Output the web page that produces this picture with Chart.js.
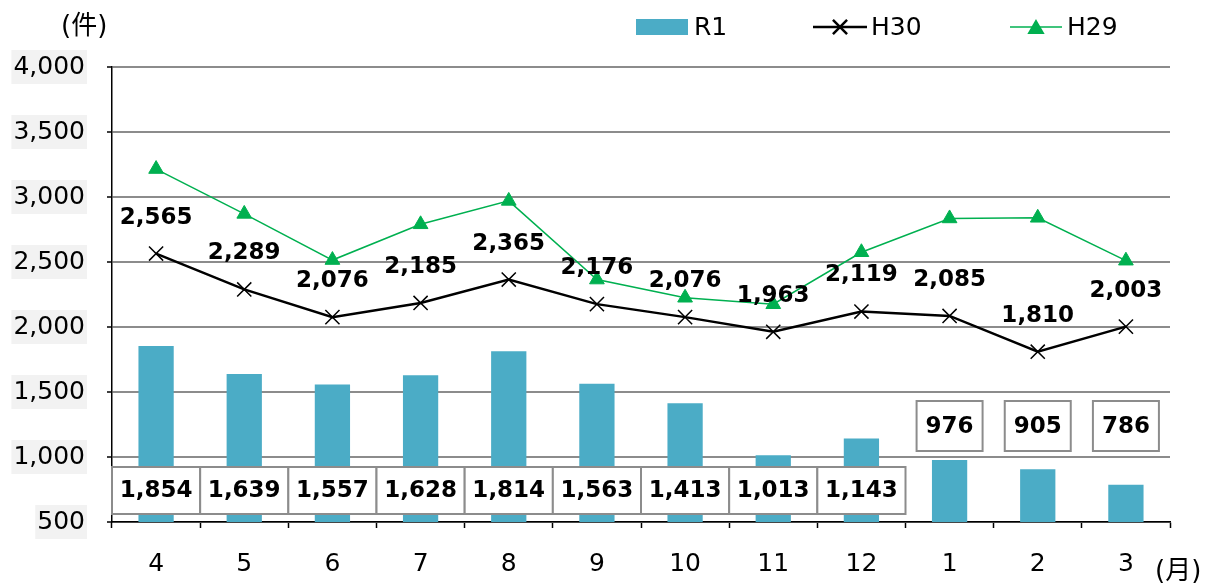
<!DOCTYPE html>
<html>
<head>
<meta charset="utf-8">
<script src="https://cdn.jsdelivr.net/npm/chart.js@4.4.0/dist/chart.umd.min.js"></script>
<style>
    html, body { margin: 0; padding: 0; background: #fff; }
    #wrap { width: 1211px; height: 584px; }
</style>
</head>
<body>
<div id="wrap"><canvas id="chart" width="1211" height="584"></canvas></div>
<script>
const months = ['4', '5', '6', '7', '8', '9', '10', '11', '12', '1', '2', '3'];
const r1Values = [1854, 1639, 1557, 1628, 1814, 1563, 1413, 1013, 1143, 976, 905, 786];
const h30Values = [2565, 2289, 2076, 2185, 2365, 2176, 2076, 1963, 2119, 2085, 1810, 2003];
const h29Values = [3215, 2870, 2515, 2790, 2970, 2365, 2225, 2175, 2575, 2835, 2840, 2510];
const yTickValues = [500, 1000, 1500, 2000, 2500, 3000, 3500, 4000];

const FONT = '"DejaVu Sans", "Noto Sans CJK JP", sans-serif';
const BAR_COLOR = '#4BACC6';
const GREEN = '#00B050';
const fmt = v => v.toLocaleString('en-US');

// grey boxes behind the y tick labels
const yLabelBg = {
    id: 'yLabelBg',
    beforeDraw(chart) {
        const { ctx, chartArea, scales: { y } } = chart;
        ctx.save();
        ctx.font = `25px ${FONT}`;
        ctx.fillStyle = '#f2f2f2';
        const right = chartArea.left - 27;
        yTickValues.forEach(v => {
            const w = ctx.measureText(fmt(v)).width;
            const py = y.getPixelForValue(v);
            ctx.fillRect(right - w - 2, py - 17, w + 4, 34);
        });
        ctx.restore();
    }
};

const valueLabels = {
    id: 'valueLabels',
    afterDatasetsDraw(chart) {
        const { ctx, chartArea, scales: { x, y } } = chart;
        ctx.save();
        ctx.font = `bold 23px ${FONT}`;
        ctx.textAlign = 'center';
        ctx.textBaseline = 'middle';

        // H30 labels above the points
        h30Values.forEach((v, i) => {
            ctx.fillStyle = '#000';
            ctx.fillText(fmt(v), x.getPixelForValue(i), y.getPixelForValue(v) - 36);
        });

        // R1 labels in boxes
        const catW = chartArea.width / months.length;
        r1Values.forEach((v, i) => {
            const cx = x.getPixelForValue(i);
            let bx, by, bw, bh;
            if (i < 9) {
                bx = cx - catW / 2; bw = catW;
                by = chartArea.bottom - 55; bh = 47;
            } else {
                bw = 66; bx = cx - bw / 2;
                by = chartArea.bottom - 121; bh = 50;
            }
            ctx.fillStyle = '#fff';
            ctx.fillRect(bx, by, bw, bh);
            ctx.strokeStyle = '#8c8c8c';
            ctx.lineWidth = 2;
            ctx.strokeRect(bx, by, bw, bh);
            ctx.fillStyle = '#000';
            ctx.fillText(fmt(v), cx, by + bh / 2 + 1);
        });
        ctx.restore();
    },
    afterDraw(chart) {
        const { ctx, chartArea } = chart;
        ctx.save();
        ctx.fillStyle = '#000';
        ctx.textBaseline = 'middle';
        ctx.textAlign = 'left';
        ctx.font = `26px ${FONT}`;
        ctx.fillText('(件)', 61, 27);
        ctx.fillText('(月)', chartArea.right - 15, 572);

        // legend
        ctx.font = `25px ${FONT}`;
        ctx.fillStyle = BAR_COLOR;
        ctx.fillRect(636, 19, 52, 16);
        ctx.fillStyle = '#000';
        ctx.fillText('R1', 694, 28);

        ctx.strokeStyle = '#000';
        ctx.lineWidth = 2.5;
        ctx.beginPath(); ctx.moveTo(813, 27); ctx.lineTo(867, 27); ctx.stroke();
        Chart.helpers.drawPoint(ctx, { pointStyle: 'crossRot', radius: 10, borderWidth: 1.5 }, 840, 27);
        ctx.fillText('H30', 871, 28);

        ctx.strokeStyle = GREEN;
        ctx.fillStyle = GREEN;
        ctx.lineWidth = 1.5;
        ctx.beginPath(); ctx.moveTo(1010, 27); ctx.lineTo(1062, 27); ctx.stroke();
        Chart.helpers.drawPoint(ctx, { pointStyle: 'triangle', radius: 8.5, borderWidth: 1 }, 1036, 29);
        ctx.fillStyle = '#000';
        ctx.fillText('H29', 1067, 28);
        ctx.restore();
    }
};

new Chart(document.getElementById('chart'), {
    type: 'bar',
    data: {
        labels: months,
        datasets: [
            {
                type: 'line',
                label: 'H30',
                data: h30Values,
                borderColor: '#000',
                backgroundColor: '#000',
                borderWidth: 2.5,
                pointStyle: 'crossRot',
                pointRadius: 10,
                pointBorderWidth: 1.5,
                pointBorderColor: '#000',
                tension: 0,
                order: 1
            },
            {
                type: 'line',
                label: 'H29',
                data: h29Values,
                borderColor: GREEN,
                backgroundColor: GREEN,
                borderWidth: 1.5,
                pointStyle: 'triangle',
                pointRadius: 8.5,
                pointBorderWidth: 1,
                pointBackgroundColor: GREEN,
                pointBorderColor: GREEN,
                tension: 0,
                order: 2
            },
            {
                label: 'R1',
                data: r1Values,
                backgroundColor: BAR_COLOR,
                categoryPercentage: 1,
                barPercentage: 0.4,
                order: 3
            }
        ]
    },
    options: {
        responsive: false,
        animation: false,
        devicePixelRatio: 1,
        layout: { padding: { top: 67, right: 41, left: 0, bottom: 0 } },
        scales: {
            x: {
                afterFit: s => { s.height = 62; },
                grid: {
                    display: true,
                    drawOnChartArea: false,
                    drawTicks: true,
                    tickLength: 6,
                    tickColor: '#000',
                    tickWidth: 1.5,
                    offset: true
                },
                border: { color: '#000', width: 1.5 },
                ticks: {
                    color: '#000',
                    font: { family: FONT, size: 25 },
                    padding: 21,
                    maxRotation: 0
                }
            },
            y: {
                min: 500,
                max: 4000,
                afterFit: s => { s.width = 112; },
                afterBuildTicks: s => { s.ticks = yTickValues.map(v => ({ value: v })); },
                grid: {
                    color: '#8c8c8c',
                    lineWidth: 2,
                    drawTicks: true,
                    tickLength: 5,
                    tickColor: '#000',
                    tickWidth: 1.5
                },
                border: { color: '#000', width: 1.5 },
                ticks: {
                    color: '#000',
                    font: { family: FONT, size: 25 },
                    padding: 22,
                    callback: v => fmt(v)
                }
            }
        },
        plugins: {
            legend: { display: false },
            tooltip: { enabled: false }
        }
    },
    plugins: [yLabelBg, valueLabels]
});
</script>
</body>
</html>
